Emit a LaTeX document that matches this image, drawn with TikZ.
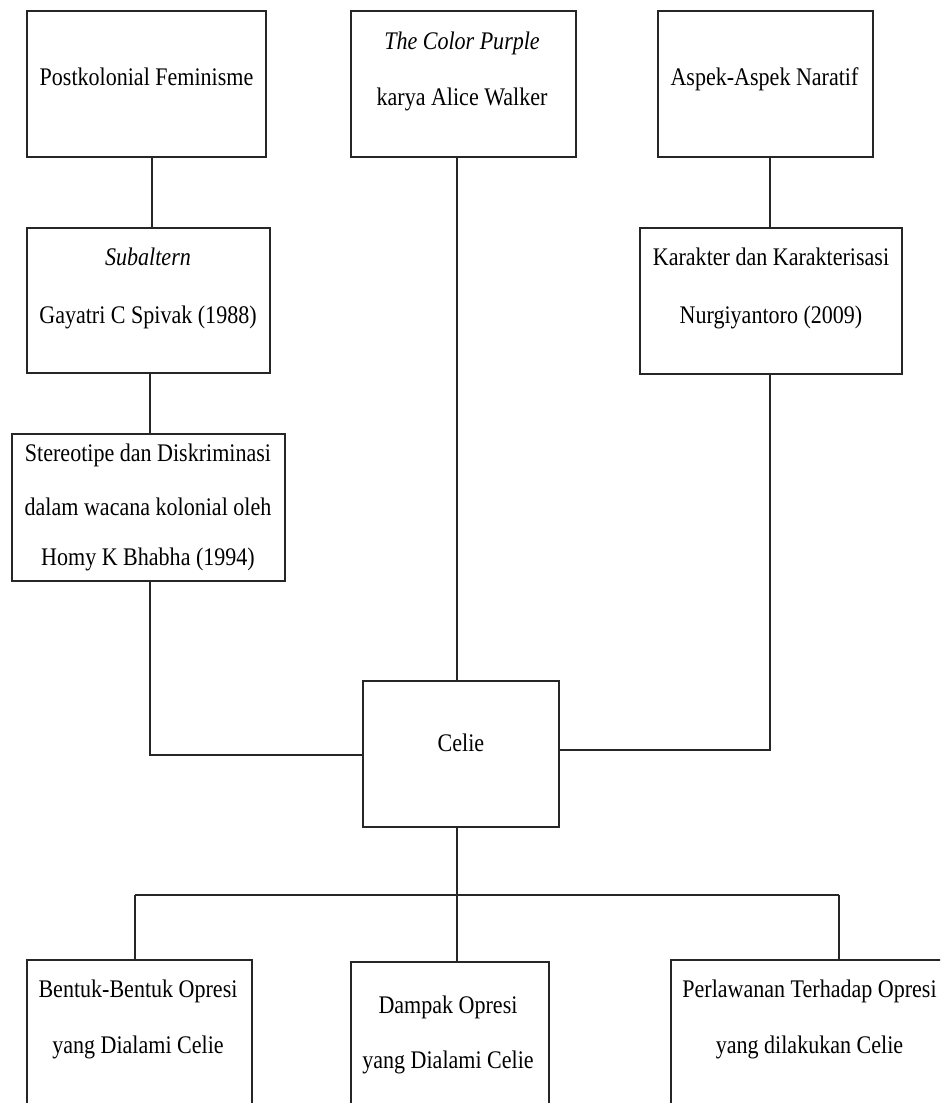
\documentclass[tikz,border=0pt]{standalone}
\usepackage{fontspec}
\setmainfont{Liberation Serif}[FakeStretch=0.87]
\usetikzlibrary{fit}
\begin{document}
\begin{tikzpicture}[x=0.75pt,y=-0.75pt,
  box/.style={draw=black!85, line width=1.5pt, inner sep=0pt, rectangle},
  conn/.style={draw=black!85, line width=1.5pt},
  lbl/.style={anchor=base, inner sep=0pt, font=\fontsize{19}{22}\selectfont}]
\useasboundingbox (0,0) rectangle (940,1103);
\fill[white] (0,0) rectangle (940,1103);
\clip (0,0) rectangle (940,1103);
% boxes
\node[box, fit={(27,11) (266,157)}] (pf) {};
\node[box, fit={(27,228) (270,373)}] (sub) {};
\node[box, fit={(12,434) (285,581)}] (ste) {};
\node[box, fit={(351,11) (576,157)}] (cp) {};
\node[box, fit={(658,11) (873,157)}] (asp) {};
\node[box, fit={(640,228) (902,374)}] (kar) {};
\node[box, fit={(363,681) (559,827)}] (cel) {};
\node[box, fit={(27,960) (252,1130)}] (ben) {};
\node[box, fit={(351,962) (549,1130)}] (dam) {};
\node[box, fit={(671,960) (948,1130)}] (per) {};
% texts
\node[lbl] (tpf) at (146.5,85) {Postkolonial Feminisme};
\node[lbl] (tsub1) at (148,265.7) {\itshape Subaltern};
\node[lbl] (tsub2) at (148,323) {Gayatri C Spivak (1988)};
\node[lbl] (tste1) at (148,461.7) {Stereotipe dan Diskriminasi};
\node[lbl] (tste2) at (148,515) {dalam wacana kolonial oleh};
\node[lbl] (tste3) at (148,565.7) {Homy K Bhabha (1994)};
\node[lbl] (tcp1) at (462,49) {\itshape The Color Purple};
\node[lbl] (tcp2) at (462,105) {karya Alice Walker};
\node[lbl] (tasp) at (764.5,85) {Aspek-Aspek Naratif};
\node[lbl] (tkar1) at (771,265.7) {Karakter dan Karakterisasi};
\node[lbl] (tkar2) at (771,323) {Nurgiyantoro (2009)};
\node[lbl] (tcel) at (461,751.7) {Celie};
\node[lbl] (tben1) at (138,997) {Bentuk-Bentuk Opresi};
\node[lbl] (tben2) at (138,1053) {yang Dialami Celie};
\node[lbl] (tdam1) at (448,1013) {Dampak Opresi};
\node[lbl] (tdam2) at (448,1068) {yang Dialami Celie};
\node[lbl] (tper1) at (809.5,997) {Perlawanan Terhadap Opresi};
\node[lbl] (tper2) at (809.5,1053) {yang dilakukan Celie};
% connector guide points
\coordinate (x1) at (152,0);
\coordinate (x2) at (150,0);
\coordinate (bl) at (150,755);
\coordinate (x3) at (457,0);
\coordinate (x4) at (770,0);
\coordinate (br) at (770,750);
\coordinate (jl) at (135,895);
\coordinate (jr) at (839,895);
\coordinate (jm) at (457,895);
% connectors
\draw[conn] (pf.south -| x1) -- (sub.north -| x1);
\draw[conn] (sub.south -| x2) -- (ste.north -| x2);
\draw[conn] (ste.south -| bl) -- (bl) -- (cel.west |- bl);
\draw[conn] (cp.south -| x3) -- (cel.north -| x3);
\draw[conn] (asp.south -| x4) -- (kar.north -| x4);
\draw[conn] (kar.south -| br) -- (br) -- (cel.east |- br);
\draw[conn] (cel.south -| jm) -- (dam.north -| jm);
\draw[conn] (jl) -- (jr);
\draw[conn] (jl) -- (ben.north -| jl);
\draw[conn] (jr) -- (per.north -| jr);
\end{tikzpicture}
\end{document}
